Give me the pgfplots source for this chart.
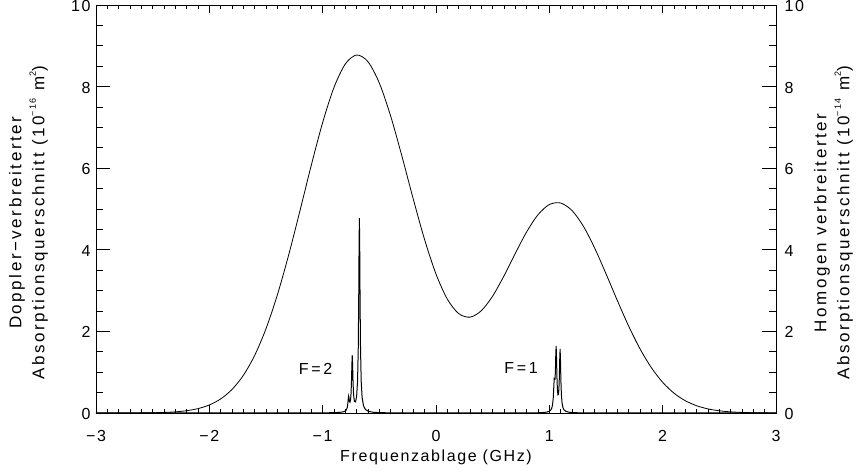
\documentclass[border=0pt]{standalone}
\usepackage{pgfplots}
\pgfplotsset{compat=1.18}
\usepackage{fontspec}
\setmainfont[LetterSpace=10]{Liberation Sans}
\newcommand{\supx}[1]{\raisebox{0.5em}{\fontsize{9}{9}\selectfont #1}}
\newcommand{\ylabfont}{\fontsize{17}{23}\selectfont\addfontfeatures{LetterSpace=15}}
\begin{document}
\fontsize{16}{23}\selectfont
\begin{tikzpicture}
\begin{axis}[name=ax, scale only axis, width=680pt, height=408pt,
  xmin=-3, xmax=3, ymin=0, ymax=10,
  xtick={-3,-2,-1,0,1,2,3}, xticklabels={−3,−2,−1,0,1,2,3},
  ytick={0,2,4,6,8,10}, yticklabels={0,2,4,6,8,10},
  minor x tick num=9, minor y tick num=3,
  tick align=inside, xtick pos=both, ytick pos=both,
  xtick style={/pgfplots/major tick length=8pt, /pgfplots/minor tick length=4pt, line width=0.6pt, black},
  ytick style={/pgfplots/major tick length=13.6pt, /pgfplots/minor tick length=6.8pt, line width=0.6pt, black},
  axis line style={line width=0.8pt},
  xticklabel style={anchor=center, yshift=-22.5pt},
  yticklabel style={yshift=-1pt},
  xlabel={Frequenzablage (GHz)},
  xlabel style={at={(axis description cs:0.5,-0.1078)}, anchor=center},
  ylabel={Doppler−verbreiterter\\Absorptionsquerschnitt (10\supx{−16} m\supx{2})},
  ylabel style={at={(axis description cs:-0.0993,0.466)}, anchor=center, align=center, font=\ylabfont},
]
\addplot[black, line width=0.8pt, smooth] coordinates {
(-3.0,0.0001) (-2.9,0.0002) (-2.8,0.0005) (-2.7,0.0011) (-2.6,0.0027)
(-2.5,0.0062) (-2.4,0.0135) (-2.3,0.0282) (-2.2,0.0564) (-2.1,0.1077)
(-2.0,0.1970) (-1.9,0.3446) (-1.8,0.5765) (-1.7,0.9224) (-1.6,1.4115)
(-1.5,2.0661) (-1.4,2.8925) (-1.3,3.8733) (-1.2,4.9607) (-1.1,6.0771)
(-1.0,7.1207) (-0.9,7.9805) (-0.8,8.5555) (-0.7,8.7741) (-0.6,8.6096)
(-0.5,8.0867) (-0.4,7.2773) (-0.3,6.2872) (-0.2,5.2372) (-0.1,4.2441)
(0.0,3.4057) (0.1,2.7907) (0.2,2.4366) (0.3,2.3494) (0.4,2.5078)
(0.5,2.8665) (0.6,3.3612) (0.7,3.9136) (0.8,4.4399) (0.9,4.8599)
(1.0,5.1090) (1.1,5.1465) (1.2,4.9629) (1.3,4.5794) (1.4,4.0421)
(1.5,3.4130) (1.6,2.7563) (1.7,2.1292) (1.8,1.5730) (1.9,1.1117)
(2.0,0.7515) (2.1,0.4859) (2.2,0.3004) (2.3,0.1777) (2.4,0.1005)
(2.5,0.0544) (2.6,0.0281) (2.7,0.0139) (2.8,0.0066) (2.9,0.0030)
(3.0,0.0013)
};
\addplot[black, line width=1pt] coordinates {
(-3,0.0001) (-2,0.0002) (-1.5,0.0005)
(-1.0,0.0035) (-0.9,0.0081) (-0.85,0.0156) (-0.82,0.0278) (-0.80,0.0507)
(-0.79,0.0821) (-0.783,0.1371) (-0.778,0.2291) (-0.774,0.3545) (-0.771,0.4169)
(-0.768,0.3800) (-0.764,0.2923) (-0.759,0.2636) (-0.754,0.3194) (-0.750,0.4615)
(-0.746,0.7411) (-0.742,1.2031) (-0.739,1.4131) (-0.736,1.2086) (-0.732,0.7535)
(-0.727,0.4364) (-0.72,0.2838) (-0.71,0.2717) (-0.70,0.4180) (-0.692,0.7963)
(-0.686,1.5905) (-0.682,2.766) (-0.679,4.041) (-0.676,4.778) (-0.673,4.038)
(-0.670,2.759) (-0.666,1.582) (-0.660,0.7765) (-0.652,0.3828) (-0.64,0.1810)
(-0.625,0.0938) (-0.60,0.0440) (-0.56,0.0197) (-0.5,0.0089) (-0.4,0.0038)
(0,0.0009) (0.5,0.0007)
(0.8,0.0024) (0.9,0.0062) (0.95,0.0129) (0.98,0.0243) (1.0,0.0437)
(1.01,0.0648) (1.02,0.1084) (1.028,0.1920) (1.034,0.3470) (1.038,0.5575)
(1.040,0.6784) (1.043,0.8442) (1.046,0.8369) (1.050,0.8287) (1.053,0.9878)
(1.057,1.4364) (1.060,1.6447) (1.063,1.4012) (1.067,0.8852) (1.071,0.5853)
(1.076,0.4461) (1.080,0.4527) (1.084,0.5670) (1.088,0.8524) (1.092,1.3477)
(1.095,1.5684) (1.098,1.3260) (1.102,0.7989) (1.106,0.4737) (1.112,0.2503)
(1.12,0.1341) (1.13,0.0764) (1.145,0.0418) (1.17,0.0208) (1.2,0.0116)
(1.25,0.0058) (1.35,0.0023) (1.5,0.0010) (2,0.0002) (3,0.0001)
};
\node at (axis cs:-1.063,1.09) {F\,=\,2};
\node at (axis cs:0.750,1.115) {F\,=\,1};
\end{axis}
\begin{axis}[scale only axis, width=680pt, height=408pt,
  xmin=-3, xmax=3, ymin=0, ymax=10,
  hide x axis, axis y line*=right,
  axis line style={draw=none},
  ytick={0,2,4,6,8,10}, yticklabels={0,2,4,6,8,10},
  ytick style={draw=none},
  yticklabel style={xshift=3pt, yshift=-1pt},
  ylabel={Homogen verbreiterter\\Absorptionsquerschnitt (10\supx{−14} m\supx{2})},
  ylabel style={at={(axis description cs:1.0846,0.466)}, anchor=center, align=center, font=\ylabfont},
]
\end{axis}
\pgfresetboundingbox
\path[use as bounding box] ([shift={(-96pt,-60pt)}]ax.south west) rectangle ++(858pt,473pt);
\end{tikzpicture}
\end{document}
